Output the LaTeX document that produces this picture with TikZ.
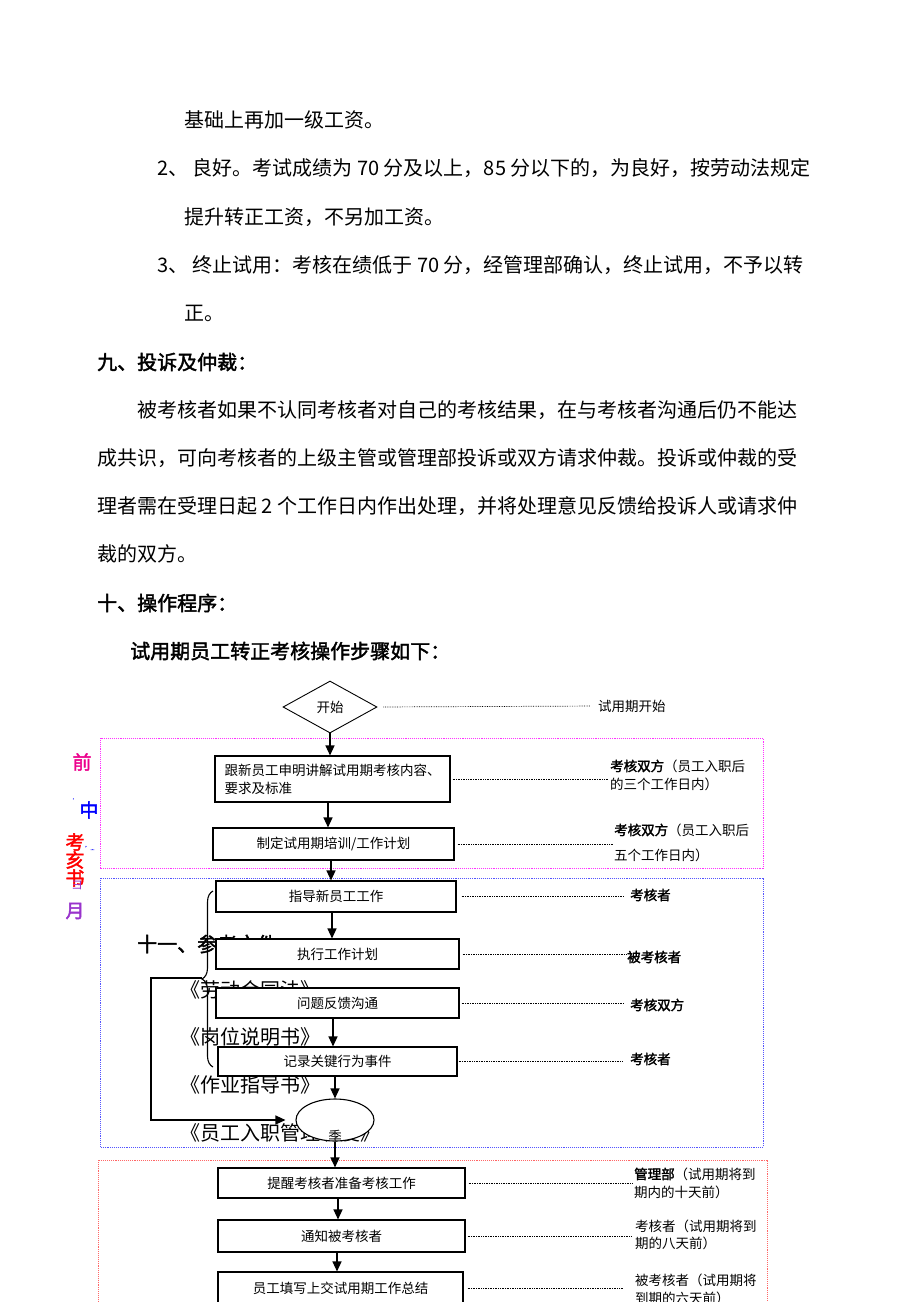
\documentclass[tikz,border=0pt]{standalone}
\usepackage{fontspec}
\setmainfont{Noto Sans CJK SC}[AutoFakeBold=2]
\usetikzlibrary{shapes.geometric,arrows.meta,decorations.pathreplacing}

\definecolor{framepink}{HTML}{FF33FF}
\definecolor{frameblue}{HTML}{5555FF}
\definecolor{framered}{HTML}{FF6666}
\definecolor{tagpurple}{HTML}{9933CC}

\tikzset{
  doctext/.style={anchor=west, inner sep=0pt, font=\fontsize{20}{24}\selectfont},
  stepbox/.style={draw, line width=1.1pt, fill=white, inner sep=0pt,
    font=\fontsize{13.5}{18}\selectfont},
  note/.style={anchor=west, inner sep=0pt, align=left,
    font=\fontsize{13.5}{18}\selectfont},
  leader/.style={densely dotted, line width=0.7pt},
  flow/.style={line width=1.3pt, -{Triangle[length=10pt,width=9pt]}},
  phase/.style={densely dotted, line width=0.9pt},
  tag/.style={inner sep=0pt, font=\fontsize{19}{19}\selectfont\bfseries},
}

\begin{document}
\begin{tikzpicture}[x=1pt, y=-1pt]
\useasboundingbox (0,0) rectangle (920,1302);

% page text above the chart
\path (184,120) node (para1) [doctext] {基础上再加一级工资。};
\path (157,168) node (para2) [doctext]
  {2、 良好。考试成绩为 70 分及以上，85 分以下的，为良好，按劳动法规定};
\path (184,217) node (para3) [doctext] {提升转正工资，不另加工资。};
\path (157,265) node (para4) [doctext]
  {3、 终止试用：考核在绩低于 70 分，经管理部确认，终止试用，不予以转};
\path (184,313) node (para5) [doctext] {正。};
\path (97,362) node (head9) [doctext] {\textbf{九、投诉及仲裁：}};
\path (137,410) node (para6) [doctext]
  {被考核者如果不认同考核者对自己的考核结果，在与考核者沟通后仍不能达};
\path (97,458) node (para7) [doctext]
  {成共识，可向考核者的上级主管或管理部投诉或双方请求仲裁。投诉或仲裁的受};
\path (97,506) node (para8) [doctext]
  {理者需在受理日起 2 个工作日内作出处理，并将处理意见反馈给投诉人或请求仲};
\path (97,554) node (para9) [doctext] {裁的双方。};
\path (97,603) node (head10) [doctext] {\textbf{十、操作程序：}};
\path (130,651) node (intro) [doctext] {\textbf{试用期员工转正考核操作步骤如下：}};

% phase frames
\draw [phase, framepink] (100,738) rectangle (763,868);
\draw [phase, frameblue] (100,878) rectangle (763,1147);
\draw [phase, framered] (98,1160) rectangle (767,1330);

% text lying under the chart
\path (137,944) node (head11) [doctext] {\textbf{十一、参考文件}};
\path (180,990) node (ref1) [doctext] {《劳动合同法》};
\path (180,1037) node (ref2) [doctext] {《岗位说明书》};
\path (180,1085) node (ref3) [doctext] {《作业指导书》};
\path (180,1133) node (ref4) [doctext] {《员工入职管理制度》};

% side tags
\path (82,762) node (tagA) [tag, magenta] {前};
\path (76,802) node (tagB) [inner sep=0pt, blue, font=\fontsize{7}{7}\selectfont] {'};
\path (89,810) node (tagC) [tag, blue] {中};
\path (75,842) node (tagD) [tag, red] {考};
\path (90,848) node (tagE) [inner sep=0pt, blue, font=\fontsize{5}{5}\selectfont] {\textbf{'...}};
\path (75,860) node (tagF) [tag, red] {亥};
\path (75,878) node (tagG) [tag, red] {书};
\path (77,885) node (tagH) [inner sep=0pt, tagpurple, font=\fontsize{12}{12}\selectfont] {ヨ};
\path (75,911) node (tagI) [tag, tagpurple] {月};

% chart steps
\path (330,707) node (start) [diamond, draw, line width=0.9pt, inner sep=0pt,
  minimum width=94pt, minimum height=52pt, font=\fontsize{13.5}{18}\selectfont]
  {开始};
\path (332.5,779) node (b1) [stepbox, minimum width=235pt, minimum height=46pt,
  text width=216pt, align=left] {跟新员工申明讲解试用期考核内容、\\要求及标准};
\path (333.5,844) node (b2) [stepbox, minimum width=241pt, minimum height=32pt]
  {制定试用期培训/工作计划};
\path (336,896.5) node (b3) [stepbox, minimum width=240pt, minimum height=31pt]
  {指导新员工工作};
\path (337.5,954) node (b4) [stepbox, minimum width=243pt, minimum height=30pt]
  {执行工作计划};
\path (337.5,1003) node (b5) [stepbox, minimum width=243pt, minimum height=30pt]
  {问题反馈沟通};
\path (337.5,1061.5) node (b6) [stepbox, minimum width=239pt, minimum height=29pt]
  {记录关键行为事件};
\path (335,1120) node (ell) [ellipse, draw, line width=1.1pt, fill=white,
  inner sep=0pt, minimum width=78pt, minimum height=42pt] {};
\begin{scope}
  \clip (335,1120) ellipse (38 and 20);
  \path (335,1136) node (ellchar) [inner sep=0pt,
    font=\fontsize{13.5}{18}\selectfont] {季};
\end{scope}
\path (341.5,1183) node (b7) [stepbox, minimum width=247pt, minimum height=30pt]
  {提醒考核者准备考核工作};
\path (341.5,1236) node (b8) [stepbox, minimum width=247pt, minimum height=32pt]
  {通知被考核者};
\path (340.5,1288) node (b9) [stepbox, minimum width=245pt, minimum height=32pt]
  {员工填写上交试用期工作总结};

% who does it
\path (598,706) node (n0) [note] {试用期开始};
\path (610,775) node (n1) [note] {\textbf{考核双方}（员工入职后\\的三个工作日内）};
\path (614,842.5) node (n2) [note] {\textbf{考核双方}（员工入职后\\[7pt]五个工作日内）};
\path (630,895) node (n3) [note] {\textbf{考核者}};
\path (627,957) node (n4) [note] {\textbf{被考核者}};
\path (630,1005) node (n5) [note] {\textbf{考核双方}};
\path (630,1059) node (n6) [note] {\textbf{考核者}};
\path (634,1183) node (n7) [note] {\textbf{管理部}（试用期将到\\期内的十天前）};
\path (635,1235) node (n8) [note] {考核者（试用期将到\\[-1pt]期的八天前）};
\path (635,1289) node (n9) [note] {被考核者（试用期将\\到期的六天前）};

\draw [leader, shorten <=6pt, shorten >=8pt] (start.east) -- (n0.west);
\draw [leader, shorten <=2pt, shorten >=2pt] (b1.east) -- (b1.east -| n1.west);
\draw [leader, shorten <=3pt, shorten >=1pt] (b2.east) -- (b2.east -| n2.west);
\draw [leader, shorten <=5pt, shorten >=6pt] (b3.east) -- (b3.east -| n3.west);
\draw [leader, shorten <=3pt, shorten >=1pt] (b4.east) -- (b4.east -| n4.west);
\draw [leader, shorten <=2pt, shorten >=6pt] (b5.east) -- (b5.east -| n5.west);
\draw [leader, shorten <=1pt, shorten >=8pt] (b6.east) -- (b6.east -| n6.west);
\draw [leader, shorten <=3pt, shorten >=2pt] (b7.east) -- (b7.east -| n7.west);
\draw [leader, shorten <=2pt, shorten >=3pt] (b8.east) -- (b8.east -| n8.west);
\draw [leader, shorten <=4pt, shorten >=12pt] (b9.east) -- (b9.east -| n9.west);

% step to step
\draw [flow] (start.south) -- (start.south |- b1.north);
\draw [flow] ([xshift=-4.5pt]b1.south) -- ([xshift=-4.5pt]b1.south |- b2.north);
\draw [flow] ([xshift=-2.5pt]b2.south) -- ([xshift=-2.5pt]b2.south |- b3.north);
\draw [flow] ([xshift=-4pt]b3.south) -- ([xshift=-4pt]b3.south |- b4.north);
\draw [flow] ([xshift=-4.5pt]b5.south) -- ([xshift=-4.5pt]b5.south |- b6.north);
\draw [flow] ([xshift=-2.5pt]b6.south) -- ([xshift=-2.5pt]b6.south |- ell.north);
\draw [flow] (ell.south) -- (ell.south |- b7.north);
\draw [flow] ([xshift=-3.5pt]b7.south) -- ([xshift=-3.5pt]b7.south |- b8.north);
\draw [flow] ([xshift=-4.5pt]b8.south) -- ([xshift=-4.5pt]b8.south |- b9.north);

% brace and loop back
\draw [line width=1.1pt, decorate, decoration={brace, amplitude=11pt}]
  (213,1067) -- (213,891);
\coordinate (bracetip) at (202,978);
\coordinate (loopcorner) at (151,978);
\draw [flow, shorten >=10pt] (bracetip) -- (loopcorner) |- (ell.west);

\end{tikzpicture}
\end{document}
